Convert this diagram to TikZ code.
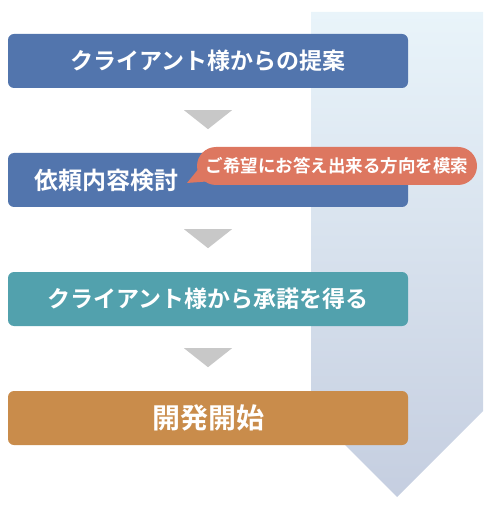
\documentclass[tikz,border=0pt]{standalone}
\usepackage{fontspec}
\setmainfont{Noto Sans CJK JP}[BoldFont={Noto Sans CJK JP Bold}]
\usetikzlibrary{calc,shapes.misc}
\definecolor{boxblue}{HTML}{5275AD}
\definecolor{boxteal}{HTML}{52A1AD}
\definecolor{boxorange}{HTML}{C98C4B}
\definecolor{bubble}{HTML}{DD7760}
\definecolor{trigray}{HTML}{C8C8C8}
\definecolor{arrtop}{HTML}{E9F4FA}
\definecolor{arrbot}{HTML}{C5CEE0}
\tikzset{
  stepbox/.style={rounded corners=6pt, minimum width=400pt, minimum height=54pt, inner sep=0pt, text=white, font=\bfseries},
  tri/.style={fill=trigray},
  bubbletext/.style={shape=rounded rectangle, fill=bubble, text=white, minimum width=280pt, minimum height=38pt, inner sep=0pt, font=\bfseries\fontsize{17.5}{20}\selectfont},
}
\begin{document}
\begin{tikzpicture}[x=1pt,y=-1pt]
\useasboundingbox (0,0) rectangle (500,510);
% big background arrow
\shade[top color=arrtop, bottom color=arrbot] (311,12) -- (483,12) -- (483,411) -- (397,497) -- (311,411) -- cycle;
% boxes
\node[stepbox, fill=boxblue, font=\bfseries\fontsize{23}{26}\selectfont] (b1) at (208,61) {クライアント様からの提案};
\node[stepbox, fill=boxblue] (b2) at (208,180) {};
\node[anchor=west, text=white, font=\bfseries\fontsize{24}{27}\selectfont, inner sep=0pt] (t2) at ($(b2.west)+(26,0)$) {依頼内容検討};
\node[stepbox, fill=boxteal, font=\bfseries\fontsize{23}{26}\selectfont] (b3) at (208,299) {クライアント様から承諾を得る};
\node[stepbox, fill=boxorange, font=\bfseries\fontsize{28}{31}\selectfont] (b4) at (208,418) {開発開始};
% triangles between boxes
\fill[tri] ($(b1.south)+(-24,22)$) -- ($(b1.south)+(24,22)$) -- ($(b1.south)+(0,41)$) -- cycle;
\fill[tri] ($(b2.south)+(-24,22)$) -- ($(b2.south)+(24,22)$) -- ($(b2.south)+(0,41)$) -- cycle;
\fill[tri] ($(b3.south)+(-24,22)$) -- ($(b3.south)+(24,22)$) -- ($(b3.south)+(0,41)$) -- cycle;
% callout
\coordinate (tip) at (187,183);
\fill[bubble] (tip) -- (200,167) -- (213,181) -- cycle;
\node[bubbletext] (c) at (337,166) {ご希望にお答え出来る方向を模索};
\end{tikzpicture}
\end{document}
